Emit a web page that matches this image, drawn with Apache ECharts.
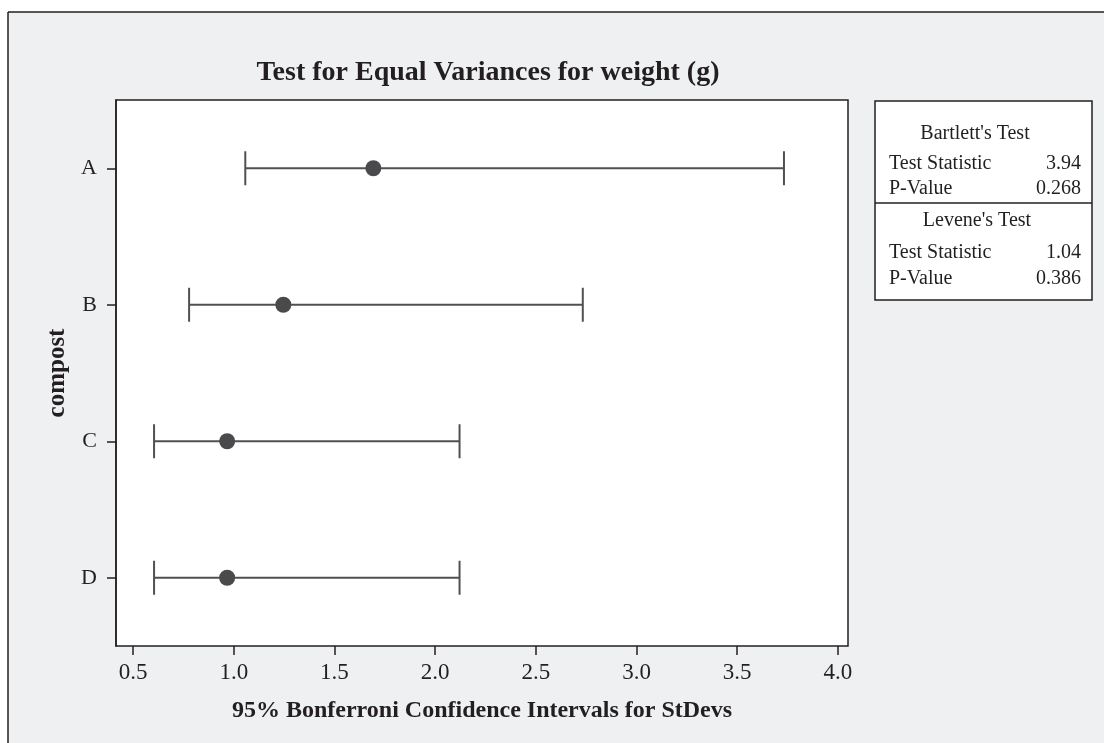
<!DOCTYPE html>
<html>
<head>
<meta charset="utf-8">
<script src="https://cdn.jsdelivr.net/npm/echarts@6/dist/echarts.min.js"></script>
<style>
  html, body { margin: 0; padding: 0; background: #ffffff; }
  #chart { width: 1104px; height: 743px; }
</style>
</head>
<body>
<div id="chart"></div>
<script>
// groups and Bonferroni intervals for the standard deviations
const groups = ['A', 'B', 'C', 'D']
const lower  = [1.057, 0.778, 0.604, 0.604]
const stdev  = [1.693, 1.246, 0.967, 0.967]
const upper  = [3.732, 2.733, 2.121, 2.121]
const xTicks = [0.5, 1.0, 1.5, 2.0, 2.5, 3.0, 3.5, 4.0]

// test results shown in the box on the right
const bartlettRows = [['Test Statistic', '3.94'], ['P-Value', '0.268']]
const leveneRows   = [['Test Statistic', '1.04'], ['P-Value', '0.386']]

const FONT = "'Liberation Serif', 'DejaVu Serif', serif"
const INK = '#231f20'
const BAR = '#505050'

const chart = echarts.init(document.getElementById('chart'), null, { renderer: 'canvas' })

function boxText(text, x, y, align) {
  return { type: 'text', x, y,
    style: { text, font: '20px ' + FONT, fill: INK, align, verticalAlign: 'middle' } }
}

function rowTexts(rows, y0, step) {
  const out = []
  rows.forEach((r, i) => {
    out.push(boxText(r[0], 889, y0 + i * step, 'left'))
    out.push(boxText(r[1], 1081, y0 + i * step, 'right'))
  })
  return out
}

const option = {
  backgroundColor: '#ffffff',
  animation: false,
  title: {
    text: 'Test for Equal Variances for weight (g)',
    left: 483, top: 54, textAlign: 'center',
    textStyle: { fontFamily: FONT, fontSize: 28, fontWeight: 'bold', color: INK },
  },
  grid: {
    left: 116, right: 256, top: 100, bottom: 97,
    show: true, backgroundColor: '#ffffff', borderColor: INK, borderWidth: 1.5,
  },
  xAxis: {
    type: 'value',
    min: 0.415, max: 4.05,
    name: '95% Bonferroni Confidence Intervals for StDevs',
    nameLocation: 'middle',
    nameGap: 53,
    nameTextStyle: { fontFamily: FONT, fontSize: 24, fontWeight: 'bold', color: INK },
    axisLine: { lineStyle: { color: INK, width: 1.5 } },
    axisTick: { show: true, length: 9, lineStyle: { color: INK, width: 1.5 }, customValues: xTicks },
    splitLine: { show: false },
    axisLabel: {
      customValues: xTicks,
      margin: 15,
      fontFamily: FONT, fontSize: 23, color: INK,
      formatter: v => v.toFixed(1),
    },
  },
  yAxis: {
    type: 'category',
    data: groups,
    inverse: true,
    name: 'compost',
    nameLocation: 'middle',
    nameGap: 38,
    nameTextStyle: { fontFamily: FONT, fontSize: 25, fontWeight: 'bold', color: INK },
    axisLine: { lineStyle: { color: INK, width: 1.5 } },
    axisTick: { show: true, alignWithLabel: true, length: 9, lineStyle: { color: INK, width: 1.5 } },
    splitLine: { show: false },
    axisLabel: { margin: 19, fontFamily: FONT, fontSize: 22, color: INK },
  },
  series: [
    {
      type: 'custom',
      data: groups.map((g, i) => [i, lower[i], upper[i]]),
      renderItem(params, api) {
        const i = api.value(0)
        const a = api.coord([api.value(1), i])
        const b = api.coord([api.value(2), i])
        const h = 17
        const style = { stroke: BAR, lineWidth: 2 }
        return {
          type: 'group',
          children: [
            { type: 'line', shape: { x1: a[0], y1: a[1], x2: b[0], y2: b[1] }, style },
            { type: 'line', shape: { x1: a[0], y1: a[1] - h, x2: a[0], y2: a[1] + h }, style },
            { type: 'line', shape: { x1: b[0], y1: b[1] - h, x2: b[0], y2: b[1] + h }, style },
          ],
        }
      },
      encode: { x: [1, 2], y: 0 },
      z: 2,
    },
    {
      type: 'scatter',
      symbol: 'circle',
      symbolSize: 16,
      itemStyle: { color: '#4a4a4c', opacity: 1 },
      data: groups.map((g, i) => [stdev[i], i]),
      z: 3,
    },
  ],
  graphic: [
    // gray page panel with its left/top border
    { type: 'rect', z: -10, shape: { x: 8, y: 12, width: 1096, height: 731 },
      style: { fill: '#eff0f2' } },
    { type: 'line', z: -5, shape: { x1: 8, y1: 12, x2: 1104, y2: 12 },
      style: { stroke: INK, lineWidth: 1.5 } },
    { type: 'line', z: -5, shape: { x1: 8, y1: 12, x2: 8, y2: 743 },
      style: { stroke: INK, lineWidth: 1.5 } },
    // test results box
    { type: 'rect', shape: { x: 875, y: 101, width: 217, height: 199 },
      style: { fill: '#ffffff', stroke: INK, lineWidth: 1.5 } },
    { type: 'line', shape: { x1: 875, y1: 203, x2: 1092, y2: 203 },
      style: { stroke: INK, lineWidth: 1.5 } },
    boxText("Bartlett's Test", 975, 134, 'center'),
    ...rowTexts(bartlettRows, 164, 25),
    boxText("Levene's Test", 977, 221, 'center'),
    ...rowTexts(leveneRows, 253, 26),
  ],
}

chart.setOption(option)
</script>
</body>
</html>
